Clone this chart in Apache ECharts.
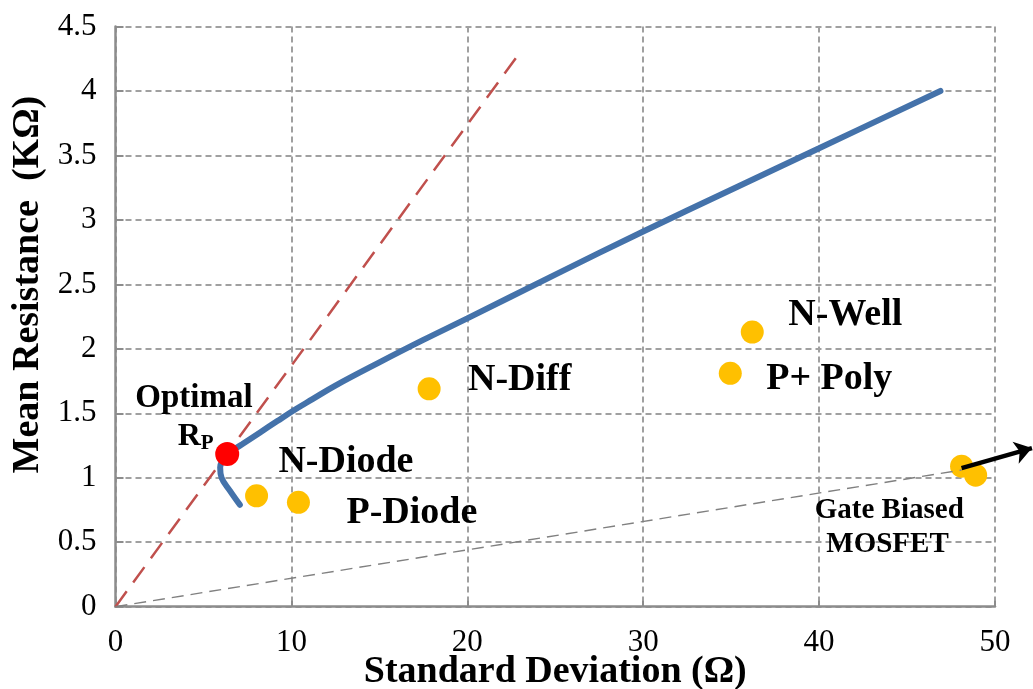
<!DOCTYPE html>
<html>
<head>
<meta charset="utf-8">
<script src="https://cdn.jsdelivr.net/npm/echarts@6/dist/echarts.min.js"></script>
<style>
  html, body { margin: 0; padding: 0; background: #fff; }
  #chart { width: 1033px; height: 689px; }
</style>
</head>
<body>
<div id="chart"></div>
<script>
// Mean resistance vs. standard deviation trade-off curve
const curveSD   = [7.07, 6.5, 6.03, 5.95, 6.1, 6.35, 7.2, 8.2, 9.2, 10.1, 11.2, 12.5, 15, 17.5, 20, 25, 30, 35, 40, 46.9];
const curveMean = [0.79, 0.9, 1.0, 1.08, 1.14, 1.185, 1.26, 1.35, 1.44, 1.52, 1.61, 1.715, 1.895, 2.069, 2.236, 2.576, 2.91, 3.234, 3.556, 4.0];

// Measured devices
const deviceNames = ['N-Diode', 'P-Diode', 'N-Diff', 'N-Well', 'P+ Poly', 'Gate Biased MOSFET', 'Gate Biased MOSFET'];
const deviceSD    = [8.02, 10.4, 17.83, 36.2, 34.95, 48.1, 48.9];
const deviceMean  = [0.86, 0.81, 1.69, 2.13, 1.81, 1.09, 1.02];

// Optimal operating point
const optimalSD = 6.35;
const optimalMean = 1.185;

// Reference lines through the origin
const redLineEnd  = [23, 4.3];
const greyLineEnd = [48.1, 1.06];
const arrowStart  = [48.1, 1.075];
const arrowEnd    = [52.1, 1.23];

// Axis ticks
const xTicks = [0, 10, 20, 30, 40, 50];
const yTicks = [0, 0.5, 1, 1.5, 2, 2.5, 3, 3.5, 4, 4.5];

// Text annotations placed in data space
const notes = [
  { text: 'Optimal', at: [4.46, 1.63], size: 33, dy: 2 },
  { text: 'R{sub|P}', at: [4.56, 1.29], size: 32, dy: -4 },
  { text: 'N-Diode', at: [13.1, 1.14], size: 38, dy: 2 },
  { text: 'P-Diode', at: [16.85, 0.74], size: 38, dy: 2 },
  { text: 'N-Diff', at: [22.98, 1.77], size: 38, dy: 2 },
  { text: 'N-Well', at: [41.49, 2.28], size: 38, dy: 2 },
  { text: 'P+ Poly', at: [40.58, 1.78], size: 38, dy: 2 },
  { text: 'Gate Biased', at: [43.99, 0.76], size: 29, dy: 2 },
  { text: 'MOSFET', at: [43.89, 0.50], size: 29, dy: 2 }
];

const serif = '"Liberation Serif", "Times New Roman", serif';
const axisGrey = '#8c8c8c';
const gridGrey = '#a0a0a0';

const chart = echarts.init(document.getElementById('chart'), null, { renderer: 'canvas' });

const option = {
  animation: false,
  backgroundColor: '#ffffff',
  grid: { left: 115.5, right: 38, top: 26.5, bottom: 82.3, containLabel: false, outerBoundsMode: 'none' },
  xAxis: {
    type: 'value',
    min: xTicks[0], max: xTicks[xTicks.length - 1], interval: 10,
    name: 'Standard Deviation (Ω)',
    nameLocation: 'middle', nameGap: 46, nameMoveOverlap: false,
    nameTextStyle: { fontFamily: serif, fontWeight: 'bold', fontSize: 38, color: '#000' },
    axisLine: { show: true, onZero: false, lineStyle: { color: axisGrey, width: 2.5 } },
    axisTick: { show: true, inside: true, length: 6, lineStyle: { color: axisGrey, width: 2 } },
    axisLabel: { fontFamily: serif, fontSize: 31, color: '#000', margin: 21 },
    splitLine: { show: true, lineStyle: { color: gridGrey, width: 2, type: [6, 4] } }
  },
  yAxis: {
    type: 'value',
    min: yTicks[0], max: yTicks[yTicks.length - 1], interval: 0.5,
    name: 'Mean Resistance  (KΩ)',
    nameLocation: 'middle', nameGap: 68, nameRotate: 90,
    nameTextStyle: { fontFamily: serif, fontWeight: 'bold', fontSize: 38, color: '#000', padding: [0, 0, 0, 64] },
    axisLine: { show: true, onZero: false, lineStyle: { color: axisGrey, width: 2.5 } },
    axisTick: { show: true, inside: true, length: 8, lineStyle: { color: axisGrey, width: 2 } },
    axisLabel: { fontFamily: serif, fontSize: 31, color: '#000', margin: 19 },
    splitLine: { show: true, lineStyle: { color: gridGrey, width: 2, type: [6, 4] } }
  },
  series: [
    {
      name: 'slope-red',
      type: 'line',
      data: [[0, 0], redLineEnd],
      symbol: 'none',
      lineStyle: { color: '#C0504D', width: 2.5, type: [19, 11] },
      z: 2, silent: true
    },
    {
      name: 'slope-grey',
      type: 'line',
      data: [[0, 0], greyLineEnd],
      symbol: 'none',
      lineStyle: { color: '#808080', width: 1.4, type: [12, 7] },
      z: 4, silent: true
    },
    {
      name: 'trade-off',
      type: 'line',
      data: curveSD.map((x, i) => [x, curveMean[i]]),
      symbol: 'none',
      smooth: 0.4,
      lineStyle: { color: '#4472AA', width: 6, cap: 'round' },
      z: 3, silent: true
    },
    {
      name: 'devices',
      type: 'scatter',
      data: deviceSD.map((x, i) => ({ name: deviceNames[i], value: [x, deviceMean[i]] })),
      symbol: 'circle',
      symbolSize: 23,
      itemStyle: { color: '#FFC000', opacity: 1 },
      z: 3, silent: true
    },
    {
      name: 'optimal',
      type: 'scatter',
      data: [[optimalSD, optimalMean]],
      symbolSize: 24,
      itemStyle: { color: '#FF0000', opacity: 1 },
      z: 5, silent: true
    },
    {
      name: 'arrow',
      type: 'lines',
      coordinateSystem: 'cartesian2d',
      clip: false,
      silent: true,
      symbol: ['none', 'arrow'],
      symbolSize: 17,
      lineStyle: { color: '#000', width: 4.5, opacity: 1, curveness: 0 },
      data: [{ coords: [arrowStart, arrowEnd] }],
      z: 6
    },
    {
      name: 'notes',
      type: 'scatter',
      data: notes.map(n => ({
        value: n.at,
        label: {
          show: true,
          formatter: n.text,
          fontSize: n.size,
          offset: [0, n.dy],
          rich: {
            sub: { fontFamily: serif, fontWeight: 'bold', fontSize: 21, color: '#000', verticalAlign: 'bottom', padding: [14, 0, 0, 0] }
          }
        }
      })),
      symbolSize: 0,
      itemStyle: { opacity: 1 },
      label: {
        show: true,
        position: 'inside',
        align: 'center',
        verticalAlign: 'middle',
        fontFamily: serif,
        fontWeight: 'bold',
        color: '#000'
      },
      clip: false,
      z: 7, silent: true
    }
  ]
};

chart.setOption(option);
</script>
</body>
</html>
